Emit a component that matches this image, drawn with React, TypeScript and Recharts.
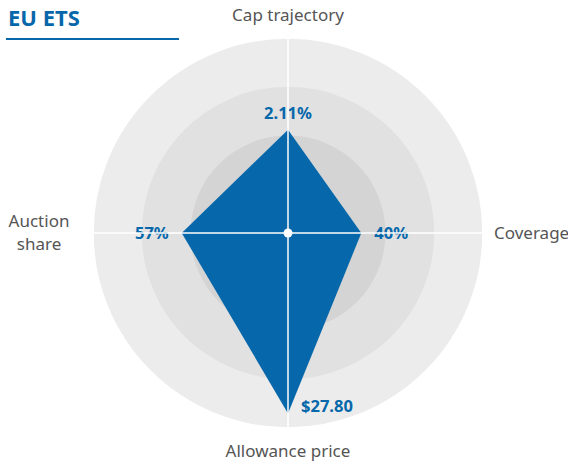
import { RadarChart, Radar, PolarGrid, PolarAngleAxis, PolarRadiusAxis } from "recharts";

const axes = ["Cap trajectory", "Coverage", "Allowance price", "Auction share"];
const scores = [0.53, 0.376, 0.925, 0.545];
const valueLabels = ["2.11%", "40%", "$27.80", "57%"];
const rings = [1, 0.75, 0.5];
const ringColors = ["#ececec", "#e1e1e1", "#d4d4d4"];

const W = 568;
const H = 466;
const CX = 288;
const CY = 233;
const R = 195;
const BLUE = "#0667aa";
const FONT = "'Noto Sans', sans-serif";

const data = axes.map((axis, i) => ({ axis, score: scores[i], text: valueLabels[i] }));

// where each value label sits relative to its vertex
const labelOffsets = [
  { dx: 0, dy: -11, anchor: "middle" },
  { dx: 13, dy: 6, anchor: "start" },
  { dx: 13, dy: -1, anchor: "start" },
  { dx: -13, dy: 6, anchor: "end" },
];

const ValueLabel = (props: any) => {
  const { x, y, index } = props;
  const o = labelOffsets[index];
  return (
    <text
      x={x + o.dx}
      y={y + o.dy}
      textAnchor={o.anchor}
      fill={BLUE}
      fontFamily={FONT}
      fontWeight={700}
      fontSize={16.5}
    >
      {valueLabels[index]}
    </text>
  );
};

const AxisTick = (props: any) => {
  const { x, y, payload } = props;
  const common = { fill: "#555", fontFamily: FONT, fontSize: 17 };
  switch (payload.value) {
    case "Cap trajectory":
      return <text x={x} y={y - 9} textAnchor="middle" {...common}>{payload.value}</text>;
    case "Coverage":
      return <text x={x + 3} y={y + 6} textAnchor="start" {...common}>{payload.value}</text>;
    case "Allowance price":
      return <text x={x} y={y + 21} textAnchor="middle" {...common}>{payload.value}</text>;
    default:
      return (
        <text x={x - 46} textAnchor="middle" {...common}>
          <tspan x={x - 46} y={y - 6}>Auction</tspan>
          <tspan x={x - 46} y={y + 17}>share</tspan>
        </text>
      );
  }
};

export default function App() {
  return (
    <div style={{ position: "relative", width: W, height: H, background: "#fff" }}>
      <style>{`body{margin:0}`}</style>
      <svg width={W} height={H} style={{ position: "absolute", left: 0, top: 0 }}>
        {rings.map((r, i) => (
          <circle key={r} cx={CX} cy={CY} r={R * r} fill={ringColors[i]} />
        ))}
      </svg>
      <div
        style={{
          position: "absolute",
          left: 8,
          top: 2,
          color: BLUE,
          fontFamily: FONT,
          fontWeight: 700,
          fontSize: 22,
        }}
      >
        EU ETS
      </div>
      <div style={{ position: "absolute", left: 6, top: 38, width: 173, height: 2, background: BLUE }} />
      <div style={{ position: "absolute", left: 0, top: 0 }}>
        <RadarChart width={W} height={H} data={data} cx={CX} cy={CY} outerRadius={R} margin={{ top: 0, right: 0, bottom: 0, left: 0 }}>
          <PolarRadiusAxis domain={[0, 1]} tick={false} axisLine={false} />
          <PolarAngleAxis dataKey="axis" tick={<AxisTick />} tickLine={false} axisLine={false} />
          <Radar
            dataKey="score"
            fill={BLUE}
            fillOpacity={1}
            stroke="none"
            isAnimationActive={false}
            label={<ValueLabel />}
          />
        </RadarChart>
      </div>
      <div style={{ position: "absolute", left: 0, top: 0, pointerEvents: "none" }}>
        <RadarChart width={W} height={H} data={data} cx={CX} cy={CY} outerRadius={R} margin={{ top: 0, right: 0, bottom: 0, left: 0 }}>
          <PolarGrid gridType="circle" polarRadius={[R]} stroke="#fff" strokeWidth={1.5} />
          <PolarAngleAxis dataKey="axis" tick={false} tickLine={false} axisLine={false} />
          <PolarRadiusAxis domain={[0, 1]} tick={false} axisLine={false} />
        </RadarChart>
        <svg width={W} height={H} style={{ position: "absolute", left: 0, top: 0 }}>
          <circle cx={CX} cy={CY} r={4.5} fill="#fff" />
        </svg>
      </div>
    </div>
  );
}
